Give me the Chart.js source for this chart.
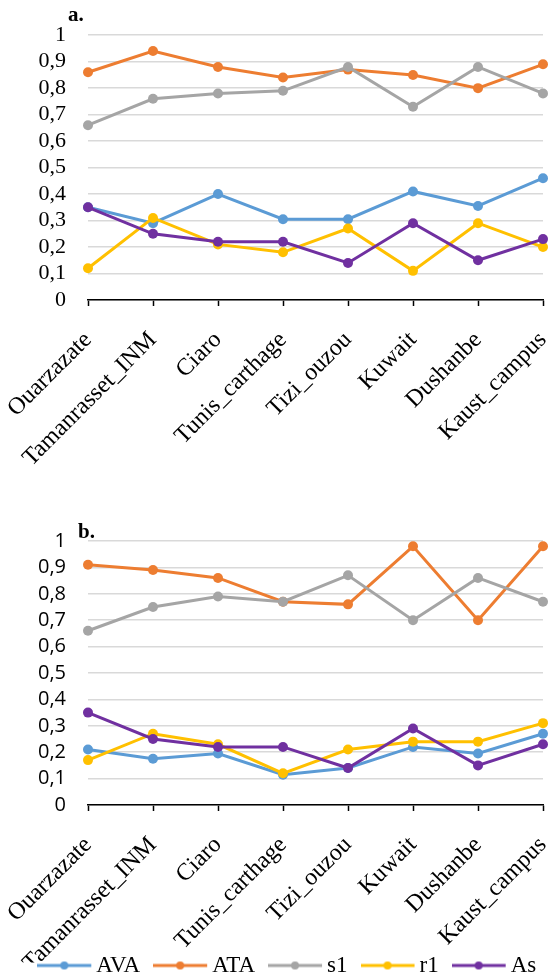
<!DOCTYPE html>
<html>
<head>
<meta charset="utf-8">
<script src="https://cdn.jsdelivr.net/npm/chart.js@4.4.0/dist/chart.umd.min.js"></script>
<style>
  html, body { margin: 0; padding: 0; background: #fff; overflow: hidden; width: 549px; height: 979px; }
  .box { position: absolute; left: 0; width: 549px; }
  #boxA { top: 0; height: 470px; }
  #boxB { top: 480px; height: 540px; }
  .tag { position: absolute; font: bold 21px "Liberation Serif", serif; line-height: 21px; color: #000; z-index: 2; }
</style>
</head>
<body>
<div class="box" id="boxA"><canvas id="chartA"></canvas></div>
<div class="box" id="boxB"><canvas id="chartB"></canvas></div>
<span class="tag" style="left:68px;top:4px">a.</span>
<span class="tag" style="left:78px;top:521px">b.</span>
<script>
// stations on the x axis
const stations = ['Ouarzazate', 'Tamanrasset_INM', 'Ciaro', 'Tunis_carthage', 'Tizi_ouzou', 'Kuwait', 'Dushanbe', 'Kaust_campus'];
const seriesNames = ['AVA', 'ATA', 's1', 'r1', 'As'];
const colors = ['#5B9BD5', '#ED7D31', '#A5A5A5', '#FFC000', '#7030A0'];

// panel a.
const avaA = [0.35, 0.29, 0.40, 0.305, 0.305, 0.41, 0.355, 0.46];
const ataA = [0.86, 0.94, 0.88, 0.84, 0.87, 0.85, 0.80, 0.89];
const s1A  = [0.66, 0.76, 0.78, 0.79, 0.88, 0.73, 0.88, 0.78];
const r1A  = [0.12, 0.31, 0.21, 0.18, 0.27, 0.11, 0.29, 0.20];
const asA  = [0.35, 0.25, 0.22, 0.22, 0.14, 0.29, 0.15, 0.23];

// panel b.
const avaB = [0.21, 0.175, 0.195, 0.115, 0.14, 0.22, 0.195, 0.27];
const ataB = [0.91, 0.89, 0.86, 0.77, 0.76, 0.98, 0.70, 0.98];
const s1B  = [0.66, 0.75, 0.79, 0.77, 0.87, 0.70, 0.86, 0.77];
const r1B  = [0.17, 0.27, 0.23, 0.12, 0.21, 0.24, 0.24, 0.31];
const asB  = [0.35, 0.25, 0.22, 0.22, 0.14, 0.29, 0.15, 0.23];

Chart.defaults.font.family = '"Liberation Serif", serif';
Chart.defaults.color = '#000';

// line + dot swatch for the legend, line sits left of the box centre
const swatches = colors.map(c => {
  const cv = document.createElement('canvas');
  cv.width = 59; cv.height = 12;
  const g = cv.getContext('2d');
  g.strokeStyle = c; g.lineWidth = 3;
  g.beginPath(); g.moveTo(0, 6); g.lineTo(54, 6); g.stroke();
  g.fillStyle = c;
  g.beginPath(); g.arc(27, 6, 4, 0, Math.PI * 2); g.fill();
  return cv;
});

// legend sits a bit right of centre in the original, and tucked under the labels
const legendShift = {
  id: 'legendShift',
  afterLayout(chart) {
    const l = chart.legend;
    if (l && l.options.display) {
      l.left += 21; l.right += 21;
      l.top -= 33; l.bottom -= 33;
    }
  }
};

function makeSets(vals) {
  return seriesNames.map((name, i) => ({
    label: name,
    data: vals[i],
    borderColor: colors[i],
    backgroundColor: colors[i],
    pointBackgroundColor: colors[i],
    borderWidth: 3,
    pointRadius: 5,
    pointBorderWidth: 0,
    order: seriesNames.length - i, // later series on top, like excel
    clip: false
  }));
}

function yTick(v) {
  if (Math.abs(v) < 1e-9) return '0';
  if (Math.abs(v - 1) < 1e-9) return '1';
  return v.toFixed(1).replace('.', ',');
}

function makeOptions(yFont, xHeight, padTop, showLegend) {
  return {
    responsive: true,
    maintainAspectRatio: false,
    animation: false,
    devicePixelRatio: 1,
    layout: { padding: { top: padTop, right: 6, bottom: 0, left: 0 } },
    plugins: {
      tooltip: { enabled: false },
      legend: {
        display: showLegend,
        position: 'bottom',
        labels: {
          usePointStyle: true,
          pointStyleWidth: 36,
          padding: 24.5,
          color: '#000',
          font: { size: 23, family: '"Liberation Serif", serif' },
          generateLabels: chart => chart.data.datasets.map((ds, i) => ({
            text: ds.label,
            pointStyle: swatches[i],
            fillStyle: ds.borderColor,
            strokeStyle: ds.borderColor,
            lineWidth: 0,
            hidden: false,
            datasetIndex: i,
            fontColor: '#000'
          }))
        }
      }
    },
    scales: {
      x: {
        offset: false,
        grid: { drawOnChartArea: false, drawTicks: true, tickLength: 6, tickColor: '#000', tickWidth: 1.5 },
        border: { color: '#000', width: 1.5 },
        ticks: {
          autoSkip: false, maxRotation: 45, minRotation: 45, padding: 20,
          color: '#000', font: { size: 24, family: '"Liberation Serif", serif' }
        },
        afterFit: s => { s.height = xHeight; s.paddingLeft = 0; s.paddingRight = 0; }
      },
      y: {
        min: 0, max: 1,
        grid: { color: '#D9D9D9', lineWidth: 1.5, drawTicks: false },
        border: { display: false },
        ticks: { stepSize: 0.1, autoSkip: false, padding: 22, color: '#000', font: yFont, callback: yTick },
        afterFit: s => { s.width = 88; }
      }
    }
  };
}

new Chart(document.getElementById('chartA'), {
  type: 'line',
  data: { labels: stations, datasets: makeSets([avaA, ataA, s1A, r1A, asA]) },
  options: makeOptions({ size: 22, family: '"Liberation Serif", serif' }, 170, 32, false),
  plugins: [legendShift]
});

new Chart(document.getElementById('chartB'), {
  type: 'line',
  data: { labels: stations, datasets: makeSets([avaB, ataB, s1B, r1B, asB]) },
  options: makeOptions({ size: 20, family: '"Open Sans", sans-serif' }, 157.5, 61, true),
  plugins: [legendShift]
});
</script>
</body>
</html>
